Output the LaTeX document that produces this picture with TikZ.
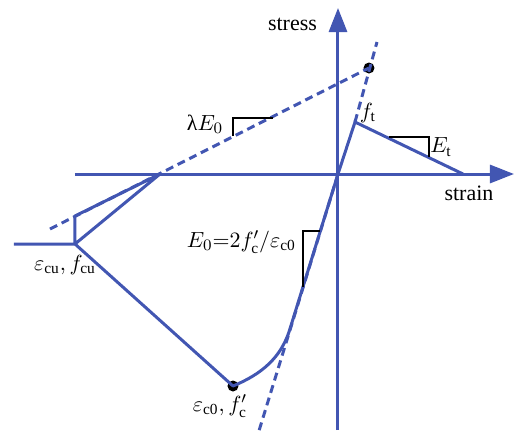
\documentclass[tikz,border=0pt]{standalone}
\usepackage{fontspec}
\setmainfont{Liberation Serif}
\usepackage{amsmath}
\usetikzlibrary{arrows.meta}
\definecolor{cblue}{RGB}{66,86,178}

\begin{document}
\begin{tikzpicture}[x=0.5pt, y=-0.5pt, every node/.style={font=\fontsize{11}{13}\selectfont},
    line/.style={draw=cblue, line width=1.5pt},
    dashline/.style={line, dash pattern=on 4pt off 2.5pt},
    axis/.style={line, -{Triangle[length=12pt,width=9pt]}},
    slope/.style={draw=black, line width=0.6pt},
    dot/.style={circle, fill=black, inner sep=0pt, minimum size=5.5pt}]
  \useasboundingbox (0,0) rectangle (516,434);

  % axes
  \coordinate (o)  at (338,174);
  \coordinate (xl) at (75,174);
  \coordinate (xr) at (514,174);
  \coordinate (yb) at (338,430);
  \coordinate (yt) at (338,8);
  \draw[axis] (xl) -- (xr);
  \draw[axis] (yb) -- (yt);

  % tension branch
  \coordinate (ft) at (355,122);
  \coordinate (tz) at (463,174);
  \coordinate (tt) at (377,42);
  \node[dot] (pk) at (369,68) {};
  \draw[dashline] (ft) -- (tt);
  \draw[line] (o) -- (ft) -- (tz);

  % unloading line lambda E0
  \coordinate (lt) at (50,229);
  \draw[dashline] (lt) -- (pk.center);

  % compression branch
  \coordinate (tb) at (258,434);
  \coordinate (j)  at (289,332);
  \coordinate (cu) at (75,244);
  \coordinate (cr) at (75,216);
  \coordinate (cx) at (160,174);
  \coordinate (hl) at (14,244);
  \node[dot] (c0) at (233,386) {};
  \draw[dashline] (o) -- (tb);
  \draw[line, line join=round] (hl) -- (cu) -- (cr) -- (cx) -- (cu) -- (c0.center)
    .. controls (262,374) and (280,358) .. (j) -- (o);

  % slope markers
  \draw[slope] (273,118) -- (233,118) -- (233,136);
  \draw[slope] (389,137) -- (429,137) -- (429,157);
  \draw[slope] (320,231) -- (303,231) -- (303,287);

  % labels
  \node[anchor=east] (stresslbl) at (324,24) {stress};
  \node (strainlbl) at (469,193) {strain};
  \node (lamlbl) at (205,124) {λ$E_0$};
  \node (ftlbl) at (368,113) {$f_\mathrm{t}$};
  \node (etlbl) at (441,147) {$E_\mathrm{t}$};
  \node[anchor=east] (e0lbl) at (303,242) {$E_0{=}2f_\mathrm{c}'/\varepsilon_\mathrm{c0}$};
  \node (culbl) at (65,265) {$\varepsilon_\mathrm{cu}, f_\mathrm{cu}$};
  \node (c0lbl) at (220,406) {$\varepsilon_\mathrm{c0}, f_\mathrm{c}'$};
\end{tikzpicture}
\end{document}
